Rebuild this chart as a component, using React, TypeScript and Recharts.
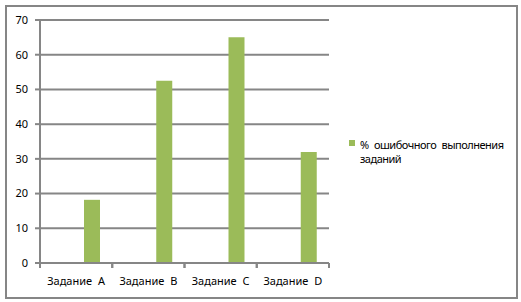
import React from "react";
import { BarChart, Bar, XAxis, YAxis, CartesianGrid, Legend } from "recharts";

// Categories and values
const categories = ["Задание A", "Задание B", "Задание C", "Задание D"];
const errorPercent = [18.2, 52.5, 65, 32];
const yTicks = [0, 10, 20, 30, 40, 50, 60, 70];
const seriesName = "% ошибочного выполнения заданий";

// Two unused series occupy the first two column slots of every group,
// so the visible column sits to the right of each category centre.
const data = categories.map((name, i) => ({
  name,
  slot1: null,
  slot2: null,
  errors: errorPercent[i],
}));

const GRID = "#868686";
const GREEN = "#9BBB59";
const FONT = "'Noto Sans', 'DejaVu Sans', sans-serif";

function CategoryTick(props: any) {
  const { x, y, payload } = props;
  const half = typeof payload?.offset === "number" && payload.offset > 0 ? payload.offset : 36.125;
  return (
    <g>
      <line x1={x - half} x2={x - half} y1={y - 5} y2={y} stroke={GRID} strokeWidth={2} />
      <line x1={x + half} x2={x + half} y1={y - 5} y2={y} stroke={GRID} strokeWidth={2} />
      <text
        x={x}
        y={y + 17}
        textAnchor="middle"
        fill="#000"
        fontSize={11}
        fontFamily={FONT}
        style={{ wordSpacing: 3 }}
      >
        {payload.value}
      </text>
    </g>
  );
}

function LegendBox(props: any) {
  const items = (props.payload || []).filter((p: any) => p.type !== "none");
  return (
    <div
      style={{
        fontFamily: FONT,
        fontSize: 11,
        lineHeight: "14px",
        color: "#000",
        letterSpacing: -0.5,
        wordSpacing: 3,
      }}
    >
      {items.map((p: any) => (
        <div key={p.value} style={{ display: "flex", alignItems: "flex-start" }}>
          <span
            style={{
              display: "inline-block",
              width: 6,
              height: 6,
              marginTop: 2,
              marginRight: 5,
              background: p.color,
              flex: "none",
            }}
          />
          <span style={{ width: 150 }}>{p.value}</span>
        </div>
      ))}
    </div>
  );
}

export default function App() {
  return (
    <div style={{ position: "absolute", left: 0, top: 0, width: 521, height: 302, background: "#fff" }}>
      <BarChart
        width={521}
        height={302}
        data={data}
        margin={{ top: 20, right: 192, bottom: 9, left: 0 }}
        barSize={16}
        barGap={0}
      >
        <CartesianGrid vertical={false} stroke={GRID} strokeWidth={2} />
        <XAxis
          dataKey="name"
          height={30}
          axisLine={{ stroke: GRID, strokeWidth: 2 }}
          tickLine={false}
          tickSize={5}
          tickMargin={0}
          interval={0}
          tick={<CategoryTick />}
        />
        <YAxis
          width={40}
          domain={[0, 70]}
          ticks={yTicks}
          interval={0}
          axisLine={{ stroke: GRID, strokeWidth: 2 }}
          tickLine={{ stroke: GRID, strokeWidth: 2 }}
          tickSize={5}
          tickMargin={7}
          tick={{ fill: "#000", fontSize: 11, fontFamily: FONT }}
        />
        <Legend
          layout="vertical"
          align="center"
          verticalAlign="middle"
          content={<LegendBox />}
          wrapperStyle={{ position: "absolute", left: 349, top: 138, width: 165, height: "auto", right: "auto", bottom: "auto" }}
        />
        <Bar dataKey="slot1" legendType="none" fill={GREEN} isAnimationActive={false} />
        <Bar dataKey="slot2" legendType="none" fill={GREEN} isAnimationActive={false} />
        <Bar dataKey="errors" name={seriesName} fill={GREEN} isAnimationActive={false} />
      </BarChart>
      <div
        style={{
          position: "absolute",
          left: 5,
          top: 5,
          width: 513,
          height: 294,
          border: `2px solid ${GRID}`,
          boxSizing: "border-box",
          pointerEvents: "none",
        }}
      />
    </div>
  );
}
